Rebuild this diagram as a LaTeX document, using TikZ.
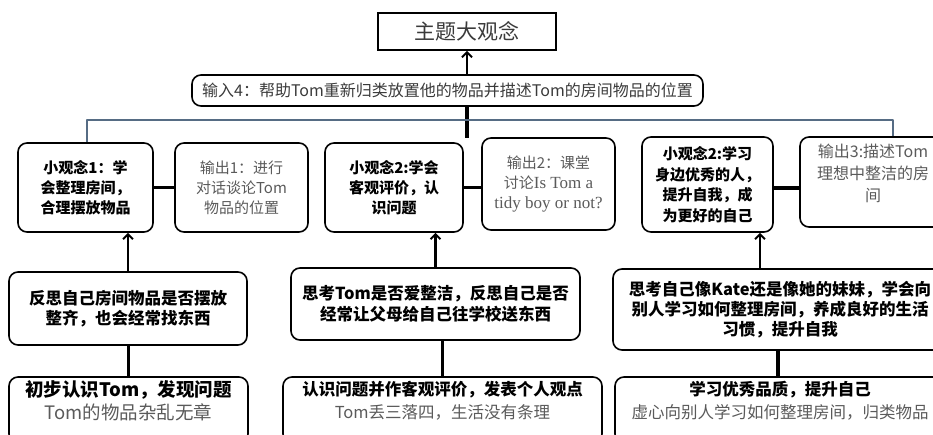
\documentclass[tikz,border=0pt]{standalone}
\usepackage{fontspec}
\setmainfont{Noto Sans CJK SC}
\newfontfamily\latserif{Liberation Serif}
\usetikzlibrary{arrows.meta}
\definecolor{slate}{HTML}{566C84}
\definecolor{txtgray}{HTML}{5A5A5A}
\definecolor{titlegray}{HTML}{3A3A3A}
\begin{document}
\begin{tikzpicture}[x=1pt,y=-1pt,
  box/.style={draw, line width=1.6pt, rounded corners=9pt, inner sep=0pt, align=center},
  rowone/.style={box, font=\fontsize{15}{20}\selectfont},
  rowtwo/.style={box, font=\fontsize{16.5}{20.5}\selectfont\bfseries},
  rowthree/.style={box, font=\fontsize{16.5}{23}\selectfont, text depth=20pt},
  conn/.style={line width=3.2pt},
  uparrow/.style={line width=2.6pt, -{Straight Barb[length=5pt,width=10pt,line width=2pt]}},
]
\useasboundingbox (0,0) rectangle (933,435);
\clip (0,0) rectangle (933,435);

% title and input
\node[draw, line width=1.8pt, minimum width=178pt, minimum height=37pt, inner sep=0pt,
      font=\fontsize{21}{24}\selectfont, text=titlegray] (title) at (467,31.5) {主题大观念};
\node[box, minimum width=511pt, minimum height=31pt, font=\fontsize{16}{20}\selectfont,
      text=titlegray] (in4) at (447.5,90.5) {输入4：帮助Tom重新归类放置他的物品并描述Tom的房间物品的位置};

% row one
\node[rowone, font=\fontsize{15}{20}\selectfont\bfseries, minimum width=135pt, minimum height=89pt] (g1) at (85.5,187.5)
  {小观念1：学\\会整理房间，\\合理摆放物品};
\node[rowone, text=txtgray, minimum width=133pt, minimum height=89pt] (o1) at (241.5,187.5)
  {输出1：进行\\对话谈论Tom\\物品的位置};
\node[rowone, font=\fontsize{15}{20}\selectfont\bfseries, minimum width=138pt, minimum height=89pt] (g2) at (394,187.5)
  {小观念2:学会\\客观评价，认\\识问题};
\node[rowone, text=txtgray, minimum width=133pt, minimum height=92pt] (o2) at (548.5,184)
  {输出2：课堂\\讨论{\latserif\fontsize{17}{20}\selectfont Is Tom a}\\{\latserif\fontsize{17}{20}\selectfont tidy boy or not?}};
\node[rowone, font=\fontsize{15}{20.5}\selectfont\bfseries, minimum width=131pt, minimum height=95pt] (g3) at (707.5,184.5)
  {小观念2:学习\\身边优秀的人，\\提升自我，成\\为更好的自己};
\node[rowone, text=txtgray, font=\fontsize{16}{22}\selectfont, text depth=18pt, minimum width=146pt, minimum height=90pt] (o3) at (873,182)
  {输出3:描述Tom\\理想中整洁的房\\间};

% row two
\node[rowtwo, minimum width=238pt, minimum height=73pt] (r1) at (128,308.5)
  {反思自己房间物品是否摆放\\整齐，也会经常找东西};
\node[rowtwo, minimum width=289pt, minimum height=72pt] (r2) at (435.5,304)
  {思考Tom是否爱整洁，反思自己是否\\经常让父母给自己往学校送东西};
\node[rowtwo, font=\fontsize{16.5}{20}\selectfont\bfseries, minimum width=334pt, minimum height=81pt] (r3) at (780,309.5)
  {思考自己像Kate还是像她的妹妹，学会向\\别人学习如何整理房间，养成良好的生活\\习惯，提升自我};

% row three
\node[rowthree, font=\fontsize{18.5}{23}\selectfont, minimum width=239pt, minimum height=66pt] (b1) at (128.5,410)
  {\textbf{初步认识Tom，发现问题}\\{\color{txtgray}Tom的物品杂乱无章}};
\node[rowthree, minimum width=319pt, minimum height=66pt] (b2) at (442.5,410)
  {\textbf{认识问题并作客观评价，发表个人观点}\\{\color{txtgray}Tom丢三落四，生活没有条理}};
\node[rowthree, minimum width=330pt, minimum height=66pt] (b3) at (780,410)
  {\textbf{学习优秀品质，提升自己}\\{\color{txtgray}虚心向别人学习如何整理房间，归类物品}};

% connectors
\draw[uparrow] (title.south |- in4.north) -- (title.south);
\coordinate (inend) at (467,138);
\draw[conn] (title.south |- in4.south) -- (inend);

\coordinate (bl) at (87,120);
\coordinate (br) at (893,120);
\draw[slate, line width=2.2pt, line join=round] (g1.north -| bl) -- (bl) -- (br) -- (o3.north -| br);

\draw[conn] (g1.east) -- (o1.west);
\draw[conn] (g2.east) -- (g2.east -| o2.west);
\draw[conn] (g3.east |- 0,188) -- (o3.west |- 0,188);

\draw[uparrow] (r1.north) -- (r1.north |- g1.south);
\draw[uparrow] (r2.north) -- (r2.north |- g2.south);
\coordinate (a3) at (760,0);
\draw[uparrow] (r3.north -| a3) -- (g3.south -| a3);

\draw[conn] (b1.north) -- (b1.north |- r1.south);
\draw[conn] (b2.north) -- (b2.north |- r2.south);
\draw[conn] (b3.north -| 778,0) -- (r3.south -| 778,0);
\end{tikzpicture}
\end{document}
